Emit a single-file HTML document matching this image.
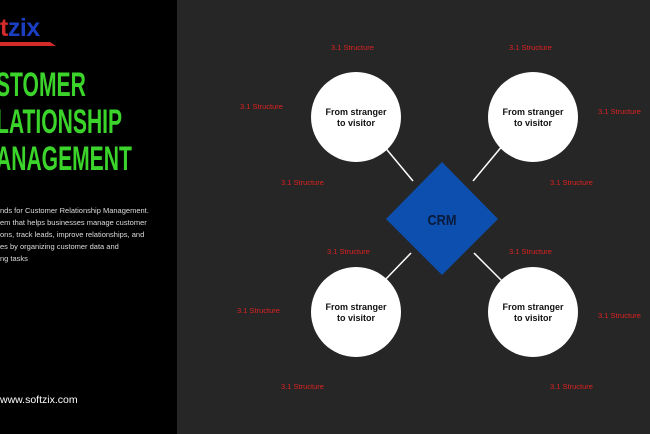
<!DOCTYPE html>
<html><head><style>
body{margin:0;width:650px;height:434px;overflow:hidden;background:#262626;font-family:"Liberation Sans",sans-serif;position:relative}
.left{position:absolute;left:0;top:0;width:177px;height:434px;background:#000}
.logo{position:absolute;left:0;top:14px;font-weight:bold;font-size:25px;color:#1a3fc0;letter-spacing:-0.5px}
.title{position:absolute;left:-4px;top:67px;color:#3bd42b;font-family:"Liberation Sans Narrow","Liberation Sans",sans-serif;font-weight:bold;font-size:34px;line-height:37px;transform:scaleX(0.62);transform-origin:left top;white-space:nowrap}
.desc{position:absolute;left:0;top:205px;color:#ddd;font-size:7.5px;line-height:12px;white-space:nowrap}
.url{position:absolute;left:0;top:394px;color:#fff;font-size:10.5px}
.lbl{position:absolute;color:#d22;font-size:7.5px;white-space:nowrap}
</style></head><body>
<div class="left"></div>
<div class="logo"><span style="color:#d42a2a">t</span>zix</div>
<svg style="position:absolute;left:0;top:40px" width="60" height="8"><polygon points="0,2 50,2 56,6 0,6" fill="#d42a2a"/></svg>
<div class="title">STOMER<br>LATIONSHIP<br>ANAGEMENT</div>
<div class="desc">nds for Customer Relationship Management.<br>em that helps businesses manage customer<br>ons, track leads, improve relationships, and<br>es by organizing customer data and<br>ng tasks</div>
<div class="url">www.softzix.com</div>
<svg style="position:absolute;left:0;top:0" width="650" height="434">
<g stroke="#fff" stroke-width="1.5">
<line x1="383" y1="145" x2="413" y2="181"/>
<line x1="503" y1="145" x2="473" y2="181"/>
<line x1="383" y1="282" x2="411" y2="253"/>
<line x1="503" y1="282" x2="474" y2="253"/>
</g>
<polygon points="442,162 498,219 442,275 386,219" fill="#0d4fae"/>
<text x="442" y="225" text-anchor="middle" font-family="Liberation Sans" font-weight="bold" font-size="15" fill="#0a1a3a" transform="translate(442 0) scale(0.85 1) translate(-442 0)">CRM</text>
<g fill="#fff">
<circle cx="356" cy="117" r="45"/><circle cx="533" cy="117" r="45"/>
<circle cx="356" cy="312" r="45"/><circle cx="533" cy="312" r="45"/>
</g>
<g font-family="Liberation Sans" font-weight="bold" font-size="9" fill="#111" text-anchor="middle">
<text x="356" y="115">From stranger</text><text x="356" y="126">to visitor</text>
<text x="533" y="115">From stranger</text><text x="533" y="126">to visitor</text>
<text x="356" y="310">From stranger</text><text x="356" y="321">to visitor</text>
<text x="533" y="310">From stranger</text><text x="533" y="321">to visitor</text>
</g>
</svg>
<div class="lbl" style="left:331px;top:43px">3.1 Structure</div>
<div class="lbl" style="left:509px;top:43px">3.1 Structure</div>
<div class="lbl" style="left:240px;top:102px">3.1 Structure</div>
<div class="lbl" style="left:598px;top:107px">3.1 Structure</div>
<div class="lbl" style="left:281px;top:178px">3.1 Structure</div>
<div class="lbl" style="left:550px;top:178px">3.1 Structure</div>
<div class="lbl" style="left:327px;top:247px">3.1 Structure</div>
<div class="lbl" style="left:509px;top:247px">3.1 Structure</div>
<div class="lbl" style="left:237px;top:306px">3.1 Structure</div>
<div class="lbl" style="left:598px;top:311px">3.1 Structure</div>
<div class="lbl" style="left:281px;top:382px">3.1 Structure</div>
<div class="lbl" style="left:550px;top:382px">3.1 Structure</div>
</body></html>
